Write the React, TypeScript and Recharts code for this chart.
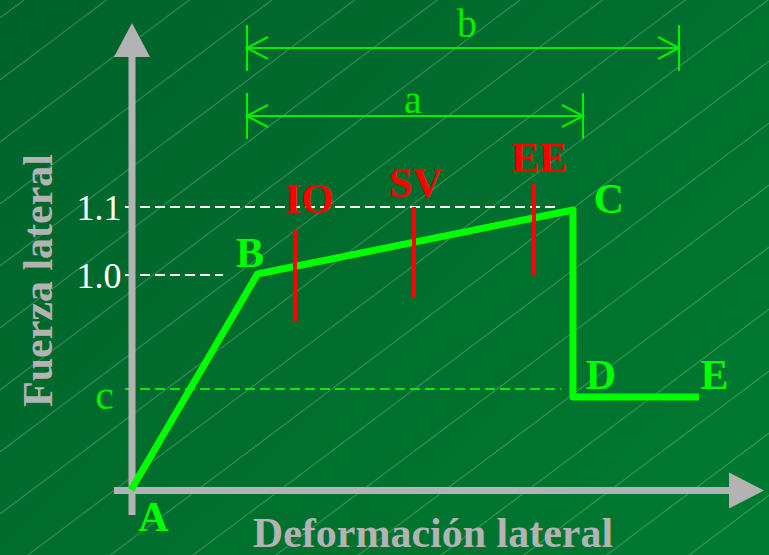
import { ComposedChart, Line, Area, XAxis, YAxis, ReferenceDot } from "recharts";

// schematic units: 1 unit = 25px on both axes, A sits at (0, 0)
const X_MIN = -5.24;
const X_MAX = 25.52;
const Y_MIN = -2.6;
const Y_MAX = 19.6;

// capacity curve A-B-C-D-E
const curveLabels = ["A", "B", "C", "D", "E"];
const curveDeformation = [0, 5.06, 17.68, 17.68, 22.72];
const curveForce = [0, 8.64, 11.2, 3.72, 3.72];

// performance levels on the B-C branch
const levelLabels = ["IO", "SV", "EE"];
const levelDeformation = [6.56, 11.32, 16.12];
const levelTop = [10.4, 11.32, 12.24];
const levelBottom = [6.76, 7.68, 8.6];

// force reference levels
const forceTickLabels = ["1.1", "1.0", "c"];
const forceTickValues = [11.32, 8.6, 4.04];
const forceTickEnds = [17.16, 3.68, 17.2];

// deformation dimensions
const dimLabels = ["a", "b"];
const dimStart = [4.64, 4.64];
const dimEnd = [18.08, 21.92];

const GREEN = "#00ff00";
const RED = "#ff0000";
const GREY = "#b3b3b3";
const FONT = "'Liberation Serif', 'Times New Roman', serif";

// label offsets (data units) from the point they belong to
const curveLabelOffset = [
  [0.9, -1.04],
  [-0.3, 0.88],
  [1.44, 0.48],
  [1.12, 0.92],
  [0.62, 0.92],
];
const levelLabelOffset = [
  [0.58, 1.28],
  [0.08, 1.0],
  [0.22, 1.08],
];
const tickColors = ["#ffffff", "#ffffff", "#00ee00"];
const tickSizes = [36, 36, 42];
const tickLabelX = [-1.28, -1.28, -1.06];
const tickLabelDy = [0, 0, -0.2];
const dimRows = [14.96, 17.68];
const dimLabelPos = [
  [11.28, 15.65],
  [13.44, 18.69],
];

type Pt = { x: number; y: number | null };

// several polylines in one series, split by null points
const joinPaths = (paths: number[][][]): Pt[] =>
  paths.flatMap((p, i) => [
    ...(i ? [{ x: p[0][0], y: null }] : []),
    ...p.map(([x, y]) => ({ x, y })),
  ]);

const curveData = curveDeformation.map((x, i) => ({ x, y: curveForce[i] }));

const levelData = joinPaths(
  levelDeformation.map((x, i) => [
    [x, levelTop[i]],
    [x, levelBottom[i]],
  ])
);

const whiteDashData = joinPaths(
  [0, 1].map((i) => [
    [-0.24, forceTickValues[i]],
    [forceTickEnds[i], forceTickValues[i]],
  ])
);
const greenDashData = [
  { x: -0.24, y: forceTickValues[2] },
  { x: forceTickEnds[2], y: forceTickValues[2] },
];

const axisData = joinPaths([
  [
    [0.04, -1],
    [0.04, 17.4],
  ],
  [
    [-0.68, -0.02],
    [23.95, -0.02],
  ],
]);
const yArrow = [
  { x: -0.68, y: 17.32 },
  { x: 0.04, y: 18.68 },
  { x: 0.76, y: 17.32 },
];
const xArrow = [
  { x: 23.92, r: [-0.74, 0.7] },
  { x: 25.32, r: [-0.02, -0.02] },
];

const dimData = joinPaths(
  dimLabels.flatMap((_, i) => {
    const y = dimRows[i];
    const s = dimStart[i];
    const e = dimEnd[i];
    return [
      [
        [s, y],
        [e, y],
      ],
      [
        [s, y + 0.92],
        [s, y - 0.92],
      ],
      [
        [e, y + 0.92],
        [e, y - 0.92],
      ],
      [
        [s + 0.84, y + 0.44],
        [s, y],
        [s + 0.84, y - 0.44],
      ],
      [
        [e - 0.84, y + 0.44],
        [e, y],
        [e - 0.84, y - 0.44],
      ],
    ];
  })
);

const textLabel = (
  value: string,
  fill: string,
  fontSize: number,
  bold: boolean,
  angle = 0
) => ({
  value,
  position: "center" as const,
  fill,
  fontSize,
  fontWeight: bold ? "bold" : "normal",
  fontFamily: FONT,
  angle,
});

const App = () => {
  return (
    <div
      style={{
        position: "absolute",
        left: 0,
        top: 0,
        width: 769,
        height: 555,
        overflow: "hidden",
        background: "linear-gradient(135deg, #00632a 0%, #006e2d 50%, #007a31 100%)",
      }}
    >
      <svg width={769} height={555} style={{ position: "absolute", left: 0, top: 0 }}>
        <defs>
          <pattern id="hatch" patternUnits="userSpaceOnUse" width={82.667} height={62} y={18}>
            <line
              x1={-82.667}
              y1={124}
              x2={165.333}
              y2={-62}
              stroke="rgba(255,255,255,0.24)"
              strokeWidth={1}
            />
          </pattern>
        </defs>
        <rect width="100%" height="100%" fill="url(#hatch)" />
      </svg>
      <div style={{ position: "absolute", left: 0, top: 0 }}>
        <ComposedChart width={769} height={555} margin={{ top: 0, right: 0, bottom: 0, left: 0 }}>
          <XAxis type="number" dataKey="x" domain={[X_MIN, X_MAX]} allowDataOverflow hide />
          <YAxis type="number" domain={[Y_MIN, Y_MAX]} allowDataOverflow hide />

          <Line data={whiteDashData} dataKey="y" stroke="#ffffff" strokeWidth={2} strokeDasharray="10 5" dot={false} activeDot={false} isAnimationActive={false} />
          <Line data={greenDashData} dataKey="y" stroke="#00ee00" strokeWidth={2} strokeDasharray="10 5" dot={false} activeDot={false} isAnimationActive={false} />

          <Line data={axisData} dataKey="y" stroke={GREY} strokeWidth={7} dot={false} activeDot={false} isAnimationActive={false} />
          <Area data={yArrow} dataKey="y" type="linear" baseValue={17.32} stroke="none" fill={GREY} fillOpacity={1} dot={false} activeDot={false} isAnimationActive={false} />
          <Area data={xArrow} dataKey="r" type="linear" stroke="none" fill={GREY} fillOpacity={1} dot={false} activeDot={false} isAnimationActive={false} />

          <Line data={dimData} dataKey="y" stroke="#00f000" strokeWidth={2.2} dot={false} activeDot={false} isAnimationActive={false} />

          <Line data={curveData} dataKey="y" stroke={GREEN} strokeWidth={7} strokeLinejoin="round" dot={false} activeDot={false} isAnimationActive={false} />

          <Line data={levelData} dataKey="y" stroke={RED} strokeWidth={4} dot={false} activeDot={false} isAnimationActive={false} />

          {curveLabels.map((name, i) => (
            <ReferenceDot
              key={name}
              x={curveDeformation[i] + curveLabelOffset[i][0]}
              y={curveForce[i] + curveLabelOffset[i][1]}
              r={0}
              fill="none"
              stroke="none"
              label={textLabel(name, GREEN, 42, true)}
            />
          ))}
          {levelLabels.map((name, i) => (
            <ReferenceDot
              key={name}
              x={levelDeformation[i] + levelLabelOffset[i][0]}
              y={levelTop[i] + levelLabelOffset[i][1]}
              r={0}
              fill="none"
              stroke="none"
              label={textLabel(name, RED, 42, true)}
            />
          ))}
          {forceTickLabels.map((name, i) => (
            <ReferenceDot
              key={name}
              x={tickLabelX[i]}
              y={forceTickValues[i] + tickLabelDy[i]}
              r={0}
              fill="none"
              stroke="none"
              label={textLabel(name, tickColors[i], tickSizes[i], false)}
            />
          ))}
          {dimLabels.map((name, i) => (
            <ReferenceDot
              key={name}
              x={dimLabelPos[i][0]}
              y={dimLabelPos[i][1]}
              r={0}
              fill="none"
              stroke="none"
              label={textLabel(name, "#00f000", 40, false)}
            />
          ))}
          <ReferenceDot x={12.08} y={-1.68} r={0} fill="none" stroke="none" label={textLabel("Deformación lateral", GREY, 42, true)} />
          <ReferenceDot x={-3.76} y={8.38} r={0} fill="none" stroke="none" label={textLabel("Fuerza lateral", GREY, 42, true, -90)} />
        </ComposedChart>
      </div>
    </div>
  );
};

export default App;
